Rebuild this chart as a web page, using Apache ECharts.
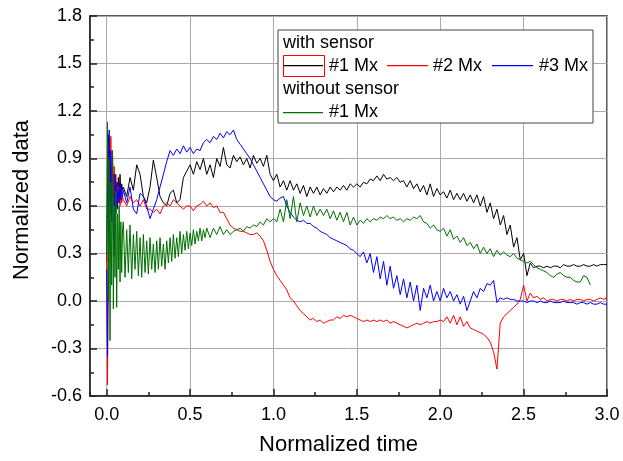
<!DOCTYPE html>
<html><head><meta charset="utf-8">
<script src="https://cdn.jsdelivr.net/npm/echarts@6/dist/echarts.min.js"></script>
<style>html,body{margin:0;padding:0;background:#fff}#c{width:623px;height:461px}</style>
</head><body><div id="c"></div>
<script>
// Normalized time samples (shared by the "with sensor" curves)
const T = [
0,0.005,0.01,0.015,0.02,0.025,0.03,0.035,0.04,0.045,
0.05,0.055,0.06,0.065,0.07,0.075,0.08,0.085,0.09,0.095,
0.10,0.12,0.14,0.16,0.18, 0.20,0.22,0.24,0.26,0.28,
0.30,0.32,0.34,0.36,0.38, 0.40,0.42,0.44,0.46,0.48,
0.50,0.52,0.54,0.56,0.58, 0.60,0.62,0.64,0.66,0.68,
0.70,0.72,0.74,0.76,0.78, 0.80,0.82,0.84,0.86,0.88,
0.90,0.92,0.94,0.96,0.98, 1.00,1.02,1.04,1.06,1.08,
1.10,1.12,1.14,1.16,1.18, 1.20,1.22,1.24,1.26,1.28,
1.30,1.32,1.34,1.36,1.38, 1.40,1.42,1.44,1.46,1.48,
1.50,1.52,1.54,1.56,1.58, 1.60,1.62,1.64,1.66,1.68,
1.70,1.72,1.74,1.76,1.78, 1.80,1.82,1.84,1.86,1.88,
1.90,1.92,1.94,1.96,1.98, 2.00,2.02,2.04,2.06,2.08,
2.10,2.12,2.14,2.16,2.18, 2.20,2.22,2.24,2.26,2.28,
2.30,2.32,2.34,2.36,2.38, 2.40,2.42,2.44,2.46,2.48,
2.50,2.52,2.54,2.56,2.58, 2.60,2.62,2.64,2.66,2.68,
2.70,2.72,2.74,2.76,2.78, 2.80,2.82,2.84,2.86,2.88,
2.90,2.92,2.94,2.96,2.98, 3.00
];

// Normalized time samples for the "without sensor" curve (denser where it is noisiest)
const T_without = [
0,0.005,0.01,0.015,0.02,0.025,0.03,0.035,0.04,0.045,
0.05,0.055,0.06,0.065,0.07,0.075,0.08,0.085,0.09,0.095,
0.10,0.11,0.12,0.13,0.14,0.15,0.16,0.17,0.18,0.19,
0.20,0.21,0.22,0.23,0.24,0.25,0.26,0.27,0.28,0.29,
0.30,0.31,0.32,0.33,0.34,0.35,0.36,0.37,0.38,0.39,
0.40,0.41,0.42,0.43,0.44,0.45,0.46,0.47,0.48,0.49,
0.50,0.51,0.52,0.53,0.54,0.55,0.56,0.57,0.58,0.59,
0.60,
0.62,0.64,0.66,0.68,
0.70,0.72,0.74,0.76,0.78, 0.80,0.82,0.84,0.86,0.88,
0.90,0.92,0.94,0.96,0.98, 1.00,1.02,1.04,1.06,1.08,
1.10,1.12,1.14,1.16,1.18, 1.20,1.22,1.24,1.26,1.28,
1.30,1.32,1.34,1.36,1.38, 1.40,1.42,1.44,1.46,1.48,
1.50,1.52,1.54,1.56,1.58, 1.60,1.62,1.64,1.66,1.68,
1.70,1.72,1.74,1.76,1.78, 1.80,1.82,1.84,1.86,1.88,
1.90,1.92,1.94,1.96,1.98, 2.00,2.02,2.04,2.06,2.08,
2.10,2.12,2.14,2.16,2.18, 2.20,2.22,2.24,2.26,2.28,
2.30,2.32,2.34,2.36,2.38, 2.40,2.42,2.44,2.46,2.48,
2.50,2.52,2.54,2.56,2.58, 2.60,2.62,2.64,2.66,2.68,
2.70,2.72,2.74,2.76,2.78, 2.80,2.82,2.84,2.86,2.88,
2.90
];

// with sensor, #1 Mx (black)
const withSensor1 = [
0.25,0.7,1.05,0.6,0.9,0.55,0.85,0.65,0.8,0.6,
0.75,0.6,0.72,0.58,0.78,0.65,0.8,0.68,0.74,0.7,
0.72,0.66,0.78,0.7,0.86,
0.8,0.66,0.62,0.72,0.89,
0.78,0.66,0.62,0.6,0.68,
0.7,0.62,0.64,0.78,0.82,
0.86,0.8,0.88,0.83,0.9,
0.8,0.86,0.78,0.9,0.85,
0.97,0.86,0.84,0.92,0.88,
0.91,0.86,0.9,0.84,0.92,
0.87,0.9,0.85,0.92,0.8,
0.76,0.8,0.72,0.76,0.7,
0.76,0.7,0.74,0.68,0.73,
0.66,0.72,0.68,0.72,0.67,
0.71,0.68,0.72,0.69,0.72,
0.7,0.73,0.7,0.74,0.72,
0.74,0.72,0.75,0.74,0.77,
0.76,0.79,0.76,0.8,0.77,
0.78,0.76,0.78,0.75,0.76,
0.72,0.76,0.71,0.74,0.69,
0.73,0.67,0.74,0.66,0.71,
0.67,0.69,0.65,0.7,0.64,
0.68,0.64,0.68,0.63,0.67,
0.62,0.67,0.6,0.66,0.56,
0.62,0.52,0.58,0.48,0.54,
0.42,0.48,0.34,0.4,0.26,
0.3,0.16,0.24,0.21,0.22,
0.22,0.21,0.22,0.21,0.22,
0.22,0.21,0.23,0.22,0.22,
0.23,0.22,0.22,0.23,0.22,
0.22,0.23,0.22,0.23,0.23,
0.23
];

// with sensor, #2 Mx (red)
const withSensor2 = [
0.3,-0.53,0.4,1.0,0.75,1.04,0.7,0.95,0.65,0.85,
0.62,0.8,0.6,0.75,0.62,0.72,0.6,0.7,0.62,0.66,
0.64,0.6,0.66,0.62,0.64,
0.6,0.64,0.58,0.58,0.56,
0.58,0.55,0.6,0.62,0.6,
0.64,0.62,0.6,0.58,0.6,
0.6,0.57,0.6,0.61,0.63,
0.6,0.62,0.59,0.6,0.56,
0.56,0.52,0.48,0.46,0.45,
0.44,0.44,0.43,0.42,0.42,
0.43,0.41,0.38,0.32,0.25,
0.2,0.16,0.13,0.1,0.07,
0.02,0.0,-0.03,-0.06,-0.08,
-0.1,-0.12,-0.11,-0.13,-0.12,
-0.14,-0.13,-0.12,-0.12,-0.1,
-0.11,-0.09,-0.1,-0.09,-0.1,
-0.11,-0.12,-0.13,-0.12,-0.13,
-0.12,-0.13,-0.12,-0.13,-0.12,
-0.14,-0.13,-0.14,-0.15,-0.16,
-0.17,-0.16,-0.15,-0.14,-0.15,
-0.14,-0.13,-0.14,-0.13,-0.13,
-0.12,-0.13,-0.1,-0.14,-0.09,
-0.15,-0.1,-0.16,-0.13,-0.17,
-0.18,-0.19,-0.2,-0.21,-0.23,
-0.26,-0.32,-0.43,-0.14,-0.1,
-0.08,-0.06,-0.04,-0.02,0.01,
0.1,0.0,0.05,0.02,0.03,
0.01,0.02,0.0,0.01,0.01,
0.0,0.01,0.01,0.0,0.01,
0.0,0.01,0.01,0.0,0.01,
0.01,0.0,0.01,0.02,0.01,
0.02
];

// with sensor, #3 Mx (blue)
const withSensor3 = [
0.2,-0.35,0.3,1.08,0.6,0.95,0.5,0.9,0.45,0.28,
0.8,0.55,0.75,0.6,0.7,0.62,0.74,0.64,0.72,0.66,
0.7,0.62,0.72,0.58,0.55,
0.68,0.66,0.6,0.52,0.58,
0.64,0.72,0.8,0.88,0.95,
0.92,0.96,0.93,0.98,0.94,
0.97,0.93,0.96,0.95,1.0,
1.02,1.0,1.04,1.02,1.06,
1.03,1.07,1.05,1.08,1.02,
0.99,0.96,0.93,0.9,0.86,
0.82,0.78,0.74,0.7,0.66,
0.64,0.63,0.65,0.66,0.6,
0.56,0.53,0.51,0.5,0.51,
0.49,0.49,0.47,0.46,0.44,
0.43,0.42,0.4,0.39,0.38,
0.37,0.36,0.35,0.33,0.32,
0.3,0.28,0.31,0.24,0.3,
0.18,0.28,0.14,0.25,0.1,
0.22,0.08,0.16,0.04,0.14,
0.02,0.12,0.0,0.1,-0.06,
0.08,0.02,0.1,0.0,0.06,
0.0,0.08,0.02,0.06,0.0,
0.04,-0.02,0.03,-0.06,0.0,
0.06,0.02,0.08,0.06,0.11,
0.1,0.13,-0.01,0.02,0.01,
0.02,0.01,0.01,0.0,0.0,
0.0,-0.01,0.0,0.0,-0.01,
0.0,-0.01,-0.01,0.0,-0.01,
-0.01,-0.01,0.0,-0.01,-0.01,
-0.01,-0.02,-0.01,-0.01,-0.02,
-0.01,-0.02,-0.02,-0.01,-0.02,
-0.02
];

// without sensor, #1 Mx (green), on T_without
const withoutSensor1 = [
0.3,1.13,0.0,0.9,-0.25,0.75,0.1,0.95,-0.05,0.6,
0.15,0.7,-0.04,0.55,0.2,0.6,0.12,0.5,0.18,0.45,
0.5,0.15,0.45,0.18,0.48,0.14,0.42,0.2,0.44,0.16,
0.4,0.15,0.42,0.18,0.38,0.17,0.4,0.2,0.36,0.18,
0.38,0.2,0.4,0.22,0.36,0.2,0.38,0.24,0.4,0.25,
0.42,0.27,0.4,0.28,0.44,0.3,0.42,0.32,0.44,0.33,
0.43,0.35,0.45,0.36,0.44,0.38,0.46,0.38,0.45,0.4,
0.46,
0.4,0.46,0.42,0.47,
0.42,0.45,0.42,0.44,0.45,
0.46,0.44,0.47,0.46,0.48,
0.47,0.5,0.48,0.52,0.5,
0.52,0.5,0.58,0.5,0.64,
0.52,0.66,0.5,0.62,0.54,
0.6,0.53,0.6,0.54,0.58,
0.54,0.58,0.52,0.57,0.51,
0.56,0.5,0.56,0.48,0.53,
0.48,0.51,0.49,0.52,0.5,
0.52,0.51,0.53,0.52,0.54,
0.52,0.53,0.51,0.52,0.5,
0.52,0.51,0.53,0.52,0.54,
0.5,0.49,0.46,0.48,0.45,
0.44,0.46,0.41,0.45,0.39,
0.41,0.37,0.4,0.35,0.37,
0.33,0.36,0.3,0.34,0.3,
0.33,0.28,0.32,0.29,0.31,
0.29,0.28,0.3,0.27,0.26,
0.25,0.24,0.25,0.23,0.21,
0.2,0.19,0.18,0.16,0.15,
0.17,0.18,0.16,0.15,0.15,
0.13,0.12,0.12,0.16,0.15,
0.1
];

const legendGroups = ['with sensor', 'without sensor'];
const legendNames = ['#1 Mx', '#2 Mx', '#3 Mx', '#1 Mx'];
const COLORS = ['#000000', '#ff0000', '#0000ff', '#007000'];

function pairs(ts, ys) { return ys.map((y, i) => [ts[i], y]); }

const FONT = '"Liberation Sans", Arial, sans-serif';
const AXC = '#222';

const chart = echarts.init(document.getElementById('c'), null, { renderer: 'canvas' });

function line(name, ts, ys, color) {
  return {
    type: 'line', name: name, data: pairs(ts, ys), showSymbol: false, symbol: 'none',
    lineStyle: { color: color, width: 1 }, itemStyle: { color: color },
    emphasis: { disabled: true }, silent: true, z: 2
  };
}

function legSwatch(id, x1, x2, y, color) {
  return { type: 'rect', id: id, z: 102, shape: { x: x1, y: y, width: x2 - x1, height: 1.3 }, style: { fill: color, stroke: null } };
}
function legText(id, x, y, txt) {
  return { type: 'text', id: id, z: 101, x: x, y: y, style: { text: txt, fontFamily: FONT, fontSize: 18, fill: '#000', verticalAlign: 'middle' } };
}

chart.setOption({
  animation: false,
  backgroundColor: '#fff',
  grid: { left: 90, right: 16, top: 16, bottom: 65, show: true, borderColor: AXC, borderWidth: 1.5, backgroundColor: 'transparent', containLabel: false },
  xAxis: [{
    type: 'value', min: -0.1, max: 3.0, minInterval: 0.5, maxInterval: 0.5, splitNumber: 6, position: 'bottom',
    name: 'Normalized time', nameLocation: 'middle', nameGap: 38,
    nameTextStyle: { fontFamily: FONT, fontSize: 22, color: '#000', padding: [0, 20, 0, 0] },
    axisLine: { onZero: false, lineStyle: { color: AXC, width: 1.5 } },
    axisTick: { inside: true, length: 7, lineStyle: { color: AXC, width: 1.5 } },
    axisLabel: { showMinLabel: false, fontFamily: FONT, fontSize: 18, color: '#000', margin: 10, formatter: v => v.toFixed(1) },
    splitLine: { show: true, lineStyle: { color: '#aaa', width: 1 } }
  }, {
    type: 'value', min: -0.1, max: 3.0, minInterval: 0.25, maxInterval: 0.25, splitNumber: 12, position: 'bottom',
    axisLine: { show: false, onZero: false },
    axisTick: { inside: true, length: 4, lineStyle: { color: AXC, width: 1.5 } },
    axisLabel: { show: false }, splitLine: { show: false }
  }],
  yAxis: {
    type: 'value', min: -0.6, max: 1.8, interval: 0.3,
    name: 'Normalized data', nameLocation: 'middle', nameGap: 57,
    nameTextStyle: { fontFamily: FONT, fontSize: 22, color: '#000', padding: [0, 0, 0, 12] },
    axisLine: { onZero: false, lineStyle: { color: AXC, width: 1.5 } },
    axisTick: { inside: true, length: 7, lineStyle: { color: AXC, width: 1.5 } },
    minorTick: { show: true, splitNumber: 2, length: 4, lineStyle: { color: AXC, width: 1.5 } },
    axisLabel: { fontFamily: FONT, fontSize: 18, color: '#000', margin: 8, formatter: v => v.toFixed(1) },
    splitLine: { show: true, lineStyle: { color: '#aaa', width: 1 } }
  },
  series: [
    line(legendGroups[0] + ' ' + legendNames[0], T, withSensor1, COLORS[0]),
    line(legendGroups[0] + ' ' + legendNames[1], T, withSensor2, COLORS[1]),
    line(legendGroups[0] + ' ' + legendNames[2], T, withSensor3, COLORS[2]),
    line(legendGroups[1] + ' ' + legendNames[3], T_without, withoutSensor1, COLORS[3])
  ],
  graphic: [
    { type: 'rect', id: 'legBox', z: 100, shape: { x: 278, y: 30, width: 315, height: 93 }, style: { fill: '#fff', stroke: '#444', lineWidth: 1 } },
    legText('t0', 283, 43, legendGroups[0]),
    legSwatch('s1', 284, 323, 65, COLORS[0]),
    { type: 'rect', id: 'sel', z: 101, shape: { x: 283.5, y: 55.5, width: 41, height: 21 }, style: { fill: 'transparent', stroke: '#ff0000', lineWidth: 1 } },
    legText('t1', 329, 66, legendNames[0]),
    legSwatch('s2', 387, 428, 65, COLORS[1]),
    legText('t2', 433, 66, legendNames[1]),
    legSwatch('s3', 492, 533, 65, COLORS[2]),
    legText('t3', 539, 66, legendNames[2]),
    legText('t4', 283, 89, legendGroups[1]),
    legSwatch('s4', 283, 323, 112, COLORS[3]),
    legText('t5', 329, 112, legendNames[3])
  ]
});
</script>
</body></html>
